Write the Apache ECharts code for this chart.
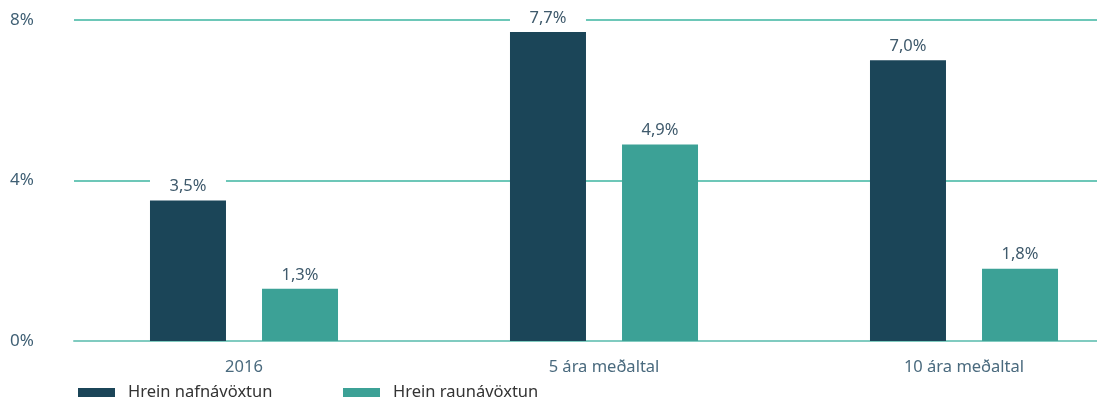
<!DOCTYPE html>
<html>
<head>
<meta charset="utf-8">
<style>
  html, body { margin: 0; padding: 0; background: #ffffff; overflow: hidden; }
  #chart { width: 1144px; height: 401px; }
</style>
<script src="https://cdn.jsdelivr.net/npm/echarts@6/dist/echarts.min.js"></script>
</head>
<body>
<div id="chart"></div>
<script>
// Net returns of the fund, in percent
const categories = ['2016', '5 ára meðaltal', '10 ára meðaltal'];
const seriesNames = ['Hrein nafnávöxtun', 'Hrein raunávöxtun'];
const nominalReturn = [3.5, 7.7, 7.0];
const realReturn = [1.3, 4.9, 1.8];
const yTicks = [0, 4, 8];

const FONT = 'Noto Sans';
const DARK = '#1b4558';
const TEAL = '#3ca196';

const fmtPct = v => v.toFixed(1).replace('.', ',') + '%';

const valueLabel = {
  show: true,
  position: 'top',
  distance: 4,
  width: 76,
  height: 20,
  lineHeight: 20,
  align: 'center',
  backgroundColor: '#ffffff',
  color: '#3f5a6c',
  fontFamily: FONT,
  fontSize: 16.5,
  formatter: p => fmtPct(p.value)
};

const legendText = { color: '#333333', fontFamily: FONT, fontSize: 16.5, padding: [0, 0, 0, 8] };

const chart = echarts.init(document.getElementById('chart'), null, { renderer: 'canvas' });

chart.setOption({
  animation: false,
  grid: [
    // bars and category labels: three 360px bands
    { left: 64, width: 1080, top: 20, height: 321, containLabel: false },
    // value gridlines and percent ticks
    { left: 74, width: 1023, top: 20, height: 321, containLabel: false }
  ],
  xAxis: [
    {
      gridIndex: 0,
      type: 'category',
      data: categories,
      axisLine: { show: false },
      axisTick: { show: false },
      axisLabel: { color: '#4a6a7e', fontFamily: FONT, fontSize: 16.5, margin: 18 }
    },
    {
      gridIndex: 1,
      type: 'value',
      min: 0, max: 1,
      axisLine: { show: true, onZero: false, lineStyle: { color: '#80cbc0', width: 2 } },
      axisTick: { show: false },
      axisLabel: { show: false },
      splitLine: { show: false },
      z: 1
    }
  ],
  yAxis: [
    {
      gridIndex: 0,
      type: 'value',
      min: 0, max: 8, interval: 4,
      axisLine: { show: false },
      axisTick: { show: false },
      axisLabel: { show: false },
      splitLine: { show: false }
    },
    {
      gridIndex: 1,
      type: 'value',
      min: yTicks[0], max: yTicks[yTicks.length - 1], interval: yTicks[1] - yTicks[0],
      axisLine: { show: false },
      axisTick: { show: false },
      axisLabel: {
        color: '#3f5f74', fontFamily: FONT, fontSize: 17,
        align: 'left', margin: 64,
        formatter: v => v + '%'
      },
      splitLine: { show: true, lineStyle: { color: '#3cb5a0', width: 1.5 } }
    }
  ],
  legend: [
    {
      data: [seriesNames[0]],
      left: 73, top: 379,
      itemWidth: 37, itemHeight: 9,
      icon: 'rect',
      textStyle: legendText
    },
    {
      data: [seriesNames[1]],
      left: 338, top: 379,
      itemWidth: 37, itemHeight: 9,
      icon: 'rect',
      textStyle: legendText
    }
  ],
  series: [
    {
      name: seriesNames[0],
      type: 'bar',
      xAxisIndex: 0, yAxisIndex: 0,
      data: nominalReturn,
      barWidth: 76,
      barGap: '47.4%',
      itemStyle: { color: DARK },
      label: valueLabel,
      z: 3
    },
    {
      name: seriesNames[1],
      type: 'bar',
      xAxisIndex: 0, yAxisIndex: 0,
      data: realReturn,
      barWidth: 76,
      barGap: '47.4%',
      itemStyle: { color: TEAL },
      label: valueLabel,
      z: 3
    }
  ]
});
</script>
</body>
</html>
